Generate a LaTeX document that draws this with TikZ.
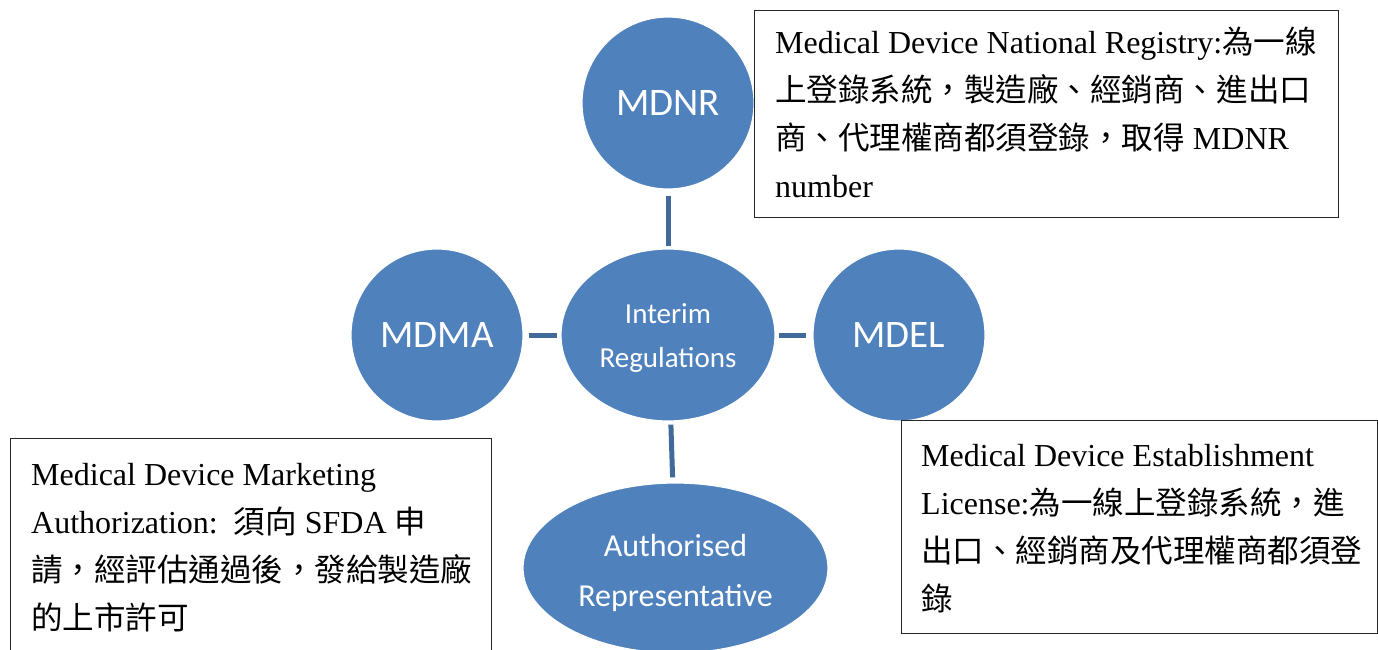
\documentclass[tikz,border=0pt]{standalone}
\usepackage{fontspec}
\setmainfont{Liberation Serif}
\newfontfamily\cjkfont[Scale=0.985]{Noto Sans CJK TC}
\newfontfamily\calibfont{Carlito}
\usetikzlibrary{shapes.geometric}
\definecolor{nodeblue}{HTML}{4F81BD}
\definecolor{linkblue}{HTML}{41699A}
\newcommand\zh[1]{{\cjkfont #1}}

\begin{document}
\begin{tikzpicture}[x=1pt,y=-1pt,
  bubble/.style={ellipse, fill=nodeblue, draw=white, line width=1.2pt,
    text=white, inner sep=0pt, align=center},
  link/.style={draw=linkblue, line width=5pt},
  infobox/.style={draw=black!85, fill=white, line width=1.4pt, inner sep=0pt},
  infotext/.style={anchor=north west, inner sep=0pt, align=left,
    font=\fontsize{32}{48}\selectfont}]
\useasboundingbox (0,0) rectangle (1378,650);

% central hub and its four satellites
\node[bubble, minimum width=214pt, minimum height=172pt,
  font=\calibfont\fontsize{29}{44}\selectfont] (ctr) at (668,335)
  {\rule{0pt}{25pt}Interim\\Regulations};
\node[bubble, minimum width=172pt, minimum height=172pt,
  font=\calibfont\fontsize{39}{47}\selectfont] (mdnr) at (668,103) {MDNR};
\node[bubble, minimum width=172pt, minimum height=172pt,
  font=\calibfont\fontsize{39}{47}\selectfont] (mdma) at (437,335) {MDMA};
\node[bubble, minimum width=172pt, minimum height=172pt,
  font=\calibfont\fontsize{39}{47}\selectfont] (mdel) at (899,335) {MDEL};
\node[bubble, minimum width=305pt, minimum height=170pt,
  font=\calibfont\fontsize{32}{50}\selectfont] (auth) at (675.5,568)
  {\rule{0pt}{32pt}Authorised\\Representative};

% connectors
\draw[link, shorten <=6pt, shorten >=2pt] (mdnr) -- (ctr);
\draw[link, shorten <=5pt, shorten >=3pt] (mdma) -- (ctr);
\draw[link, shorten <=3pt, shorten >=6pt] (ctr) -- (mdel);
\draw[link, shorten <=3pt, shorten >=5pt] (ctr) -- (auth);

% explanatory boxes
\node[infobox, anchor=north west, minimum width=584pt, minimum height=207pt] (nrbox) at (754,10) {};
\node[infotext] (nrtext) at (775,27) {Medical Device National Registry:\zh{為一線}\\
  \zh{上登錄系統，製造廠、經銷商、進出口}\\
  \zh{商、代理權商都須登錄，取得} MDNR\\
  number};

\node[infobox, anchor=north west, minimum width=481pt, minimum height=240pt] (mabox) at (10,438) {};
\node[infotext] (matext) at (31,463) {Medical Device Marketing\\
  Authorization:\ \ \zh{須向} SFDA \zh{申}\\
  \zh{請，經評估通過後，發給製造廠}\\
  \zh{的上市許可}};

\node[infobox, anchor=north west, minimum width=476pt, minimum height=213pt] (elbox) at (901,420) {};
\node[infotext] (eltext) at (921,444) {Medical Device Establishment\\
  License:\zh{為一線上登錄系統，進}\\
  \zh{出口、經銷商及代理權商都須登}\\
  \zh{錄}};
\end{tikzpicture}
\end{document}
